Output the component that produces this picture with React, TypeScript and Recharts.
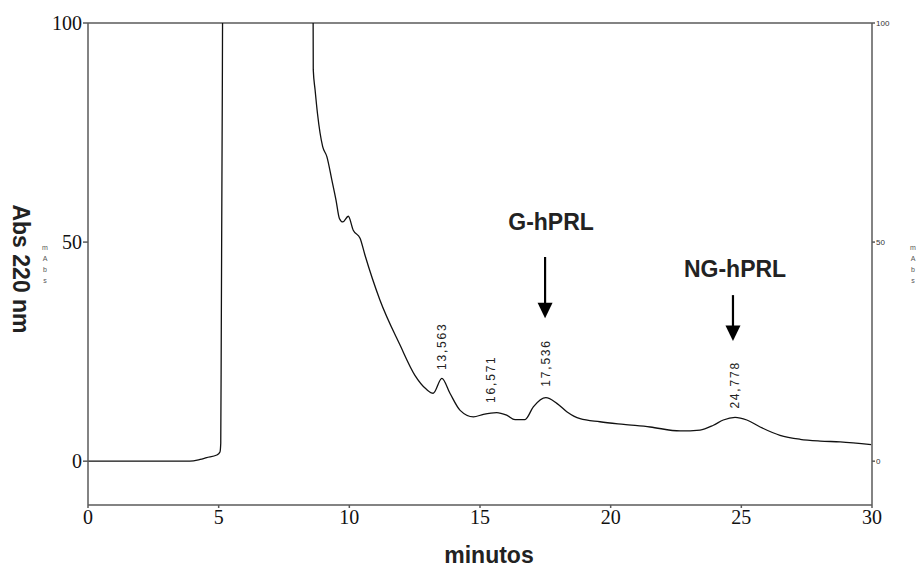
import React from 'react';
import { LineChart, Line, XAxis, YAxis, ReferenceLine, ReferenceDot, Label } from 'recharts';

const times = [0, 3.9, 4.29, 4.54, 4.93, 5.05, 5.08, 5.1, 5.14, 5.17, 8.6, 8.62, 8.69, 8.78, 8.88, 8.98, 9.14, 9.33, 9.49, 9.62, 9.75, 9.96, 10.15, 10.41, 10.6, 11.17, 11.94, 12.51, 12.95, 13.21, 13.54, 13.85, 14.24, 14.75, 15.13, 15.64, 16.02, 16.34, 16.72, 17.04, 17.52, 17.94, 18.32, 18.83, 19.59, 20.5, 21.51, 22.66, 23.42, 23.93, 24.31, 24.76, 25.21, 25.72, 26.48, 27.25, 28.02, 28.78, 29.97];
const absorbance = [0, 0, 0.4, 0.8, 1.4, 2.1, 4.1, 30, 85, 130, 130, 89.3, 84.7, 79.4, 74.9, 71.8, 69.5, 64.2, 59.6, 55.4, 54.6, 55.9, 52.7, 50.9, 47.0, 36.8, 26.5, 19.6, 16.4, 15.5, 18.9, 15.5, 11.6, 10.1, 10.7, 11.1, 10.5, 9.5, 9.5, 12.4, 14.5, 13.2, 11.3, 9.7, 9.0, 8.4, 7.8, 6.9, 7.1, 8.2, 9.4, 10.0, 9.4, 7.8, 5.9, 5.0, 4.6, 4.4, 3.8];

const xTicks = [0, 5, 10, 15, 20, 25, 30];
const yTicks = [0, 50, 100];

const peakLabels = ['13,563', '16,571', '17,536', '24,778'];
const peakLabelX = [13.55, 15.41, 17.52, 24.76];
const peakLabelY = [20.8, 13.3, 17.0, 12.0];

const annotTexts = ['G-hPRL', 'NG-hPRL'];
const annotX = [17.72, 24.76];
const annotY = [52.7, 42.0];
const arrowX = [17.49, 24.68];
const arrowTop = [46.6, 37.9];
const arrowBase = [36.1, 30.8];
const arrowTip = [32.6, 27.4];

const unitLetters = ['m', 'A', 'b', 's'];

const data = times.map((t, i) => ({ t, v: absorbance[i] }));

const AXIS = '#5a5a5a';
const SANS = '"Liberation Sans", Arial, sans-serif';
const SERIF = '"Liberation Serif", "Times New Roman", serif';

const LeftTitle = () => (
  <g>
    <text x={13} y={269} transform="rotate(90 13 269)" textAnchor="middle" fontFamily={SANS} fontWeight="bold" fontSize={23} fill="#222">Abs 220 nm</text>
    {unitLetters.map((c, i) => (
      <text key={'l' + i} x={45} y={250 + i * 11} textAnchor="middle" fontFamily={SANS} fontSize={7} fill="#555">{c}</text>
    ))}
  </g>
);

const RightTitle = () => (
  <g>
    {unitLetters.map((c, i) => (
      <text key={'r' + i} x={913} y={250 + i * 11} textAnchor="middle" fontFamily={SANS} fontSize={7} fill="#555">{c}</text>
    ))}
  </g>
);

const BottomTitle = () => (
  <text x={489} y={563} textAnchor="middle" fontFamily={SANS} fontWeight="bold" fontSize={23} fill="#222">minutos</text>
);

export default function App() {
  return (
    <div style={{ position: 'absolute', left: 0, top: 0, width: 917, height: 567, background: '#fff' }}>
      <LineChart width={917} height={567} data={data} margin={{ top: 23, right: 0, bottom: 0, left: 0 }}>
        <XAxis
          dataKey="t"
          type="number"
          domain={[0, 30]}
          ticks={xTicks}
          allowDataOverflow
          height={62}
          stroke={AXIS}
          strokeWidth={1.5}
          tickSize={3}
          tickMargin={2}
          tick={{ fontFamily: SERIF, fontSize: 20, fill: '#111' }}
          interval={0}
        >
          <Label content={<BottomTitle />} />
        </XAxis>
        <YAxis
          yAxisId="left"
          type="number"
          domain={[-10, 100]}
          ticks={yTicks}
          allowDataOverflow
          width={88}
          stroke={AXIS}
          strokeWidth={1.5}
          tickSize={5}
          tickMargin={1}
          tick={{ fontFamily: SERIF, fontSize: 20, fill: '#111' }}
          interval={0}
        >
          <Label content={<LeftTitle />} />
        </YAxis>
        <YAxis
          yAxisId="right"
          orientation="right"
          type="number"
          domain={[-10, 100]}
          ticks={yTicks}
          allowDataOverflow
          width={45}
          stroke={AXIS}
          strokeWidth={1.5}
          tickSize={3}
          tickMargin={1}
          tick={{ fontFamily: SANS, fontSize: 8, fill: '#333' }}
          interval={0}
        >
          <Label content={<RightTitle />} />
        </YAxis>
        <ReferenceLine yAxisId="left" y={100} stroke={AXIS} strokeWidth={1.5} />
        <Line
          yAxisId="left"
          dataKey="v"
          type="monotoneX"
          stroke="#111"
          strokeWidth={1.3}
          dot={false}
          isAnimationActive={false}
        />
        {peakLabels.map((s, i) => (
          <ReferenceDot
            key={'p' + i}
            yAxisId="left"
            x={peakLabelX[i]}
            y={peakLabelY[i]}
            shape={(p: any) => (
              <text
                x={p.cx + 4}
                y={p.cy}
                transform={`rotate(-90 ${p.cx + 4} ${p.cy})`}
                textAnchor="start"
                fontFamily={SANS}
                fontSize={12}
                letterSpacing={1.8}
                fill="#222"
              >
                {s}
              </text>
            )}
          />
        ))}
        {annotTexts.map((s, i) => (
          <ReferenceDot
            key={'a' + i}
            yAxisId="left"
            x={annotX[i]}
            y={annotY[i]}
            shape={(p: any) => (
              <text x={p.cx} y={p.cy} textAnchor="middle" fontFamily={SANS} fontWeight="bold" fontSize={23} fill="#222">
                {s}
              </text>
            )}
          />
        ))}
        {arrowX.map((x, i) => (
          <ReferenceLine
            key={'s' + i}
            yAxisId="left"
            segment={[{ x, y: arrowTop[i] }, { x, y: arrowBase[i] }]}
            stroke="#000"
            strokeWidth={2.2}
          />
        ))}
        {arrowX.map((x, i) => (
          <ReferenceDot
            key={'h' + i}
            yAxisId="left"
            x={x}
            y={arrowTip[i]}
            shape={(p: any) => (
              <polygon
                points={`${p.cx},${p.cy} ${p.cx - 7.5},${p.cy - 15.5} ${p.cx + 7.5},${p.cy - 15.5}`}
                fill="#000"
              />
            )}
          />
        ))}
      </LineChart>
    </div>
  );
}
